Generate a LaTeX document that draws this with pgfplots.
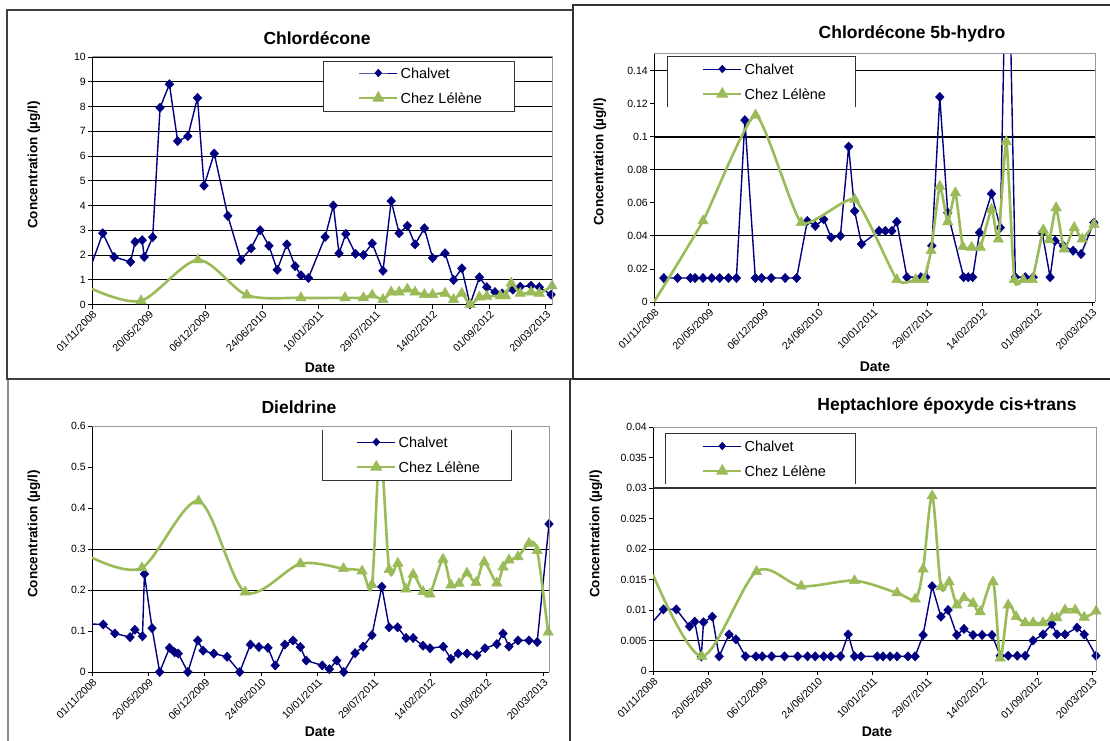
\documentclass[border=0pt]{standalone}
\usepackage{fontspec}
\setmainfont{Liberation Sans}
\usepackage{pgfplots}
\pgfplotsset{compat=1.18}
\definecolor{navy}{HTML}{000080}
\definecolor{lgreen}{HTML}{9BBB59}
\newcommand{\tickfont}{\fontsize{10.5}{12}\selectfont}
\newcommand{\legfont}{\fontsize{14.5}{17}\selectfont}
\newcommand{\titfont}{\bfseries\fontsize{17.5}{20}\selectfont}
\newcommand{\labfont}{\bfseries\fontsize{13.5}{16}\selectfont}
\pgfplotsset{
  panel/.style={
    scale only axis, anchor=south west,
    axis lines*=left, axis line style={line width=1pt, black},
    tick align=outside, major tick length=4pt, tick style={black, line width=0.8pt},
    xmin=0, ymin=0,
    xtick={0,200,...,1600},
    xticklabels={01/11/2008,20/05/2009,06/12/2009,24/06/2010,10/01/2011,29/07/2011,14/02/2012,01/09/2012,20/03/2013},
    xticklabel style={rotate=45, anchor=north east, inner sep=1pt, font=\tickfont},
    yticklabel style={font=\tickfont, inner sep=2pt},
    scaled y ticks=false,
    yticklabel={\pgfmathprintnumber[fixed,precision=3,assume math mode=true]{\tick}},
    clip mode=individual,
    legend cell align=left,
    legend style={draw=none, fill=none, inner sep=0pt, outer sep=0pt, font=\legfont,
      row sep=10.6pt, column sep=2pt,
      nodes={inner sep=0pt, text height=12.4pt, text depth=2pt}},
    legend image code/.code={\draw[mark repeat=2,mark phase=2,##1] plot coordinates {(0pt,0pt) (19pt,0pt) (38pt,0pt)};},
  },
  chal/.style={color=navy, line width=1.4pt, mark=diamond*, mark size=4.6pt, mark options={solid, fill=navy, line width=0.5pt, xscale=1.25}},
  lel/.style={color=lgreen, line width=2.6pt, smooth, mark=triangle*, mark size=6pt, mark options={solid, fill=lgreen, line width=0.5pt}},
  challeg/.style={color=navy, line width=1pt, mark=diamond*, mark size=3.5pt, mark options={solid, fill=navy, xscale=1.2}},
  lelleg/.style={color=lgreen, line width=2.6pt, mark=triangle*, mark size=4.5pt, mark options={solid, fill=lgreen}},
}
\begin{document}
\begin{tikzpicture}
\path[use as bounding box, fill=white] (0,0) rectangle (1110pt,740pt);
\clip (0,0) rectangle (1110pt,740pt);
% frames
\draw[line width=1.2pt, black!75] (7pt,361pt) rectangle (590pt,730pt);
\draw[line width=1.5pt, black!45] (8pt,-5pt) -- (8pt,360pt);
\draw[line width=2.5pt, black!80] (570pt,-5pt) -- (570pt,360pt);
\draw[line width=1.2pt, black!80, fill=white] (573pt,361pt) rectangle (1125pt,735pt);
\draw[line width=2pt, black!85] (573pt,361pt) -- (1115pt,361pt);

% ---------------- Panel 1: Chlordecone
\begin{axis}[panel, at={(92pt,435.5pt)}, width=460pt, height=247.5pt,
  xmax=1622, ymax=10, ytick={0,1,2,3,4,5,6,7,8,9,10},
  ymajorgrids, major grid style={black, line width=0.8pt},
  legend style={at={(0.5783,0.9644)}, anchor=north west}]
\addplot[chal, forget plot, mark repeat=1, mark phase=2] coordinates {
(0,1.67) (38,2.88) (78,1.92) (136,1.72) (152,2.53) (177,2.60) (184,1.92) (214,2.72)
(240,7.95) (273,8.90) (302,6.60) (338,6.80) (372,8.35) (395,4.80) (431,6.10) (479,3.58)
(525,1.80) (561,2.27) (593,3.00) (624,2.37) (653,1.40) (687,2.43) (716,1.55) (737,1.18)
(763,1.07) (822,2.73) (851,4.00) (871,2.07) (895,2.85) (929,2.05) (957,2.00) (988,2.47)
(1026,1.36) (1055,4.18) (1083,2.88) (1112,3.18) (1139,2.43) (1172,3.08) (1201,1.88)
(1245,2.07) (1275,0.99) (1304,1.46) (1333,0.0) (1366,1.10) (1392,0.70) (1421,0.50)
(1446,0.45) (1484,0.60) (1510,0.72) (1548,0.76) (1577,0.70) (1619,0.40)};
\addplot[lel, forget plot, mark repeat=1, mark phase=2] coordinates {
(0,0.63) (173,0.15) (373,1.80) (546,0.38) (737,0.27) (892,0.27) (957,0.27) (988,0.38)
(1026,0.20) (1055,0.50) (1083,0.50) (1112,0.62) (1139,0.50) (1172,0.40) (1201,0.40)
(1245,0.45) (1275,0.20) (1304,0.45) (1333,0.0) (1366,0.30) (1392,0.33) (1440,0.35)
(1458,0.35) (1478,0.86) (1510,0.45) (1548,0.50) (1577,0.45) (1622,0.75)};
\fill[white] (rel axis cs:0.5022,0.7818) rectangle (rel axis cs:0.9174,0.9838);
\draw[line width=1pt, black!80] (rel axis cs:0.5022,0.7818) rectangle (rel axis cs:0.9174,0.9838);
\draw[line width=1pt, black!40] (rel axis cs:0,1) -- (rel axis cs:1,1) -- (rel axis cs:1,0);
\addlegendimage{challeg}\addlegendentry{Chalvet}
\addlegendimage{lelleg}\addlegendentry{Chez Lélène}
\end{axis}

% ---------------- Panel 2: Chlordecone 5b-hydro
\begin{axis}[panel, at={(654pt,438pt)}, width=441pt, height=248pt,
  xmax=1611, ymax=0.15, ytick={0,0.02,0.04,0.06,0.08,0.1,0.12,0.14},
  legend style={at={(0.1088,0.9685)}, anchor=north west}]
\draw[black, line width=0.8pt] (axis cs:0,0.04) -- (axis cs:1611,0.04);
\draw[black, line width=0.8pt] (axis cs:0,0.08) -- (axis cs:1611,0.08);
\draw[black, line width=2pt] (axis cs:0,0.1) -- (axis cs:1611,0.1);
\draw[black, line width=0.8pt] (axis cs:0,0.14) -- (axis cs:1611,0.14);
\addplot[chal, forget plot] coordinates {
(36,0.0145) (86,0.0145) (133,0.0145) (150,0.0145) (179,0.0145) (211,0.0145) (240,0.0145)
(272,0.0145) (301,0.0145) (332,0.110) (370,0.0145) (393,0.0145) (428,0.0145) (479,0.0145)
(521,0.0145) (560,0.049) (589,0.046) (620,0.050) (647,0.039) (681,0.040) (711,0.094)
(733,0.055) (758,0.035) (822,0.043) (845,0.043) (869,0.043) (887,0.0485) (924,0.015)
(975,0.015) (993,0.015) (1015,0.034) (1044,0.124) (1073,0.054) (1131,0.015) (1148,0.015)
(1164,0.015) (1189,0.042) (1233,0.0655) (1265,0.045) (1291,0.26) (1320,0.015) (1356,0.015)
(1385,0.015) (1418,0.042) (1447,0.015) (1465,0.037) (1495,0.034) (1531,0.031) (1560,0.029)
(1607,0.048)};
\addplot[lel, tension=0.3, forget plot, mark repeat=1, mark phase=2] coordinates {
(0,0) (179,0.049) (371,0.113) (538,0.048) (733,0.062) (887,0.0135) (956,0.0135) (985,0.0135)
(1012,0.031) (1044,0.070) (1073,0.0485) (1101,0.066) (1128,0.0335) (1160,0.033) (1192,0.033)
(1233,0.056) (1258,0.038) (1287,0.097) (1316,0.0135) (1349,0.0135) (1382,0.0135)
(1422,0.0436) (1444,0.0376) (1469,0.057) (1498,0.032) (1535,0.045) (1564,0.038) (1607,0.047)};
\fill[white] (rel axis cs:0.0317,0.7863) rectangle (rel axis cs:0.4580,0.9879);
\draw[line width=1pt, black!80] (rel axis cs:0.0317,0.7863) -- (rel axis cs:0.0317,0.9879) -- (rel axis cs:0.4580,0.9879) -- (rel axis cs:0.4580,0.7863);
\draw[line width=1pt, black!40] (rel axis cs:0,1) -- (rel axis cs:1,1) -- (rel axis cs:1,0);
\addlegendimage{challeg}\addlegendentry{Chalvet}
\addlegendimage{lelleg}\addlegendentry{Chez Lélène}
\end{axis}

% ---------------- Panel 3: Dieldrine
\begin{axis}[panel, at={(92pt,68pt)}, width=457pt, height=246pt,
  xmax=1621, ymax=0.6, ytick={0,0.1,0.2,0.3,0.4,0.5,0.6},
  legend style={at={(0.5777,0.9642)}, anchor=north west}]
\draw[black, line width=0.8pt] (axis cs:0,0.2) -- (axis cs:1621,0.2);
\draw[black, line width=0.8pt] (axis cs:0,0.3) -- (axis cs:1621,0.3);
\addplot[chal, forget plot, mark repeat=1, mark phase=2] coordinates {
(0,0.117) (40,0.116) (81,0.094) (135,0.085) (152,0.103) (179,0.087) (186,0.239) (213,0.107)
(240,0.0) (275,0.059) (293,0.048) (306,0.045) (340,0.0) (375,0.077) (394,0.052) (432,0.045)
(479,0.037) (524,0.0) (562,0.067) (592,0.061) (624,0.059) (650,0.016) (684,0.067) (713,0.077)
(739,0.061) (760,0.028) (817,0.016) (842,0.007) (868,0.028) (893,0.0) (933,0.046) (962,0.062)
(993,0.090) (1028,0.208) (1054,0.109) (1084,0.109) (1114,0.083) (1139,0.083) (1174,0.064)
(1199,0.058) (1246,0.062) (1273,0.032) (1299,0.045) (1330,0.045) (1365,0.041) (1394,0.058)
(1436,0.068) (1458,0.094) (1479,0.062) (1511,0.077) (1550,0.077) (1579,0.073) (1621,0.361)};
\addplot[lel, forget plot, mark repeat=1, mark phase=2] coordinates {
(0,0.279) (177,0.254) (378,0.417) (543,0.195) (739,0.264) (892,0.252) (958,0.246) (993,0.213)
(1022,0.55) (1054,0.250) (1085,0.265) (1114,0.202) (1139,0.238) (1174,0.196) (1199,0.190)
(1245,0.275) (1273,0.212) (1302,0.216) (1330,0.241) (1362,0.218) (1391,0.268) (1436,0.217)
(1458,0.256) (1479,0.273) (1511,0.281) (1550,0.314) (1579,0.296) (1618,0.097)};
\fill[white] (rel axis cs:0.5033,0.7805) rectangle (rel axis cs:0.9190,1);
\draw[line width=1pt, black!80] (rel axis cs:0.5033,0.984) -- (rel axis cs:0.5033,0.7805) -- (rel axis cs:0.9190,0.7805) -- (rel axis cs:0.9190,0.984);
\draw[line width=1pt, black!40] (rel axis cs:0,1) -- (rel axis cs:1,1) -- (rel axis cs:1,0);
\addlegendimage{challeg}\addlegendentry{Chalvet}
\addlegendimage{lelleg}\addlegendentry{Chez Lélène}
\end{axis}

% ---------------- Panel 4: Heptachlore epoxyde
\begin{axis}[panel, at={(653pt,69pt)}, width=443pt, height=244pt,
  xmax=1614, ymax=0.04, ytick={0,0.005,0.01,0.015,0.02,0.025,0.03,0.035,0.04},
  legend style={at={(0.1106,0.9516)}, anchor=north west}]
\draw[black, line width=0.8pt] (axis cs:0,0.005) -- (axis cs:1614,0.005);
\draw[black, line width=0.8pt] (axis cs:0,0.02) -- (axis cs:1614,0.02);
\draw[black!80, line width=1.5pt] (axis cs:0,0.03) -- (axis cs:1614,0.03);
\addplot[chal, forget plot, mark repeat=1, mark phase=2] coordinates {
(0,0.0081) (38,0.0101) (85,0.0101) (133,0.0073) (152,0.0081) (176,0.0024) (184,0.0080)
(216,0.0089) (241,0.0024) (277,0.0060) (302,0.0052) (337,0.0024) (375,0.0024) (398,0.0024)
(432,0.0024) (479,0.0024) (527,0.0024) (563,0.0024) (591,0.0024) (622,0.0024) (648,0.0024)
(683,0.0024) (711,0.0060) (734,0.0024) (758,0.0024) (817,0.0024) (838,0.0024) (864,0.0024)
(889,0.0024) (929,0.0024) (955,0.0024) (984,0.0059) (1017,0.0139) (1049,0.0089) (1075,0.0100)
(1107,0.0059) (1133,0.0069) (1166,0.0059) (1199,0.0059) (1235,0.0059) (1265,0.0025)
(1294,0.0025) (1327,0.0025) (1356,0.0025) (1385,0.0050) (1421,0.0060) (1453,0.0077)
(1472,0.0060) (1501,0.0060) (1545,0.0071) (1571,0.0060) (1614,0.0025)};
\addplot[lel, forget plot, mark repeat=1, mark phase=2] coordinates {
(0,0.0158) (178,0.0024) (377,0.0163) (540,0.0139) (734,0.0148) (889,0.0128) (955,0.0118)
(984,0.0167) (1017,0.0287) (1049,0.0138) (1079,0.0146) (1107,0.0108) (1133,0.0120)
(1166,0.0111) (1192,0.0097) (1239,0.0146) (1265,0.0021) (1294,0.0108) (1323,0.0089)
(1356,0.0079) (1385,0.0079) (1421,0.0079) (1454,0.0087) (1472,0.0087) (1501,0.0100)
(1538,0.0100) (1571,0.0088) (1614,0.0098)};
\fill[white] (rel axis cs:0.0293,0.7664) rectangle (rel axis cs:0.4582,0.9754);
\draw[line width=1pt, black!80] (rel axis cs:0.0293,0.7664) -- (rel axis cs:0.0293,0.9754) -- (rel axis cs:0.4582,0.9754) -- (rel axis cs:0.4582,0.7664);
\draw[line width=1pt, black!40] (rel axis cs:0,1) -- (rel axis cs:1,1) -- (rel axis cs:1,0);
\addlegendimage{challeg}\addlegendentry{Chalvet}
\addlegendimage{lelleg}\addlegendentry{Chez Lélène}
\end{axis}

% titles and labels
\node[font=\titfont] at (317pt,702pt) {Chlordécone};
\node[font=\titfont] at (912pt,706pt) {Chlordécone 5b-hydro};
\node[font=\titfont] at (299pt,333pt) {Dieldrine};
\node[font=\titfont] at (947pt,334pt) {Heptachlore époxyde cis+trans};
\node[font=\labfont, rotate=90] at (34pt,575pt) {Concentration (µg/l)};
\node[font=\labfont, rotate=90] at (600pt,578pt) {Concentration (µg/l)};
\node[font=\labfont, rotate=90] at (34pt,206pt) {Concentration (µg/l)};
\node[font=\labfont, rotate=90] at (596pt,206pt) {Concentration (µg/l)};
\node[font=\bfseries\fontsize{14}{16}\selectfont] at (320pt,372pt) {Date};
\node[font=\bfseries\fontsize{14}{16}\selectfont] at (875pt,373pt) {Date};
\node[font=\bfseries\fontsize{14}{16}\selectfont] at (320pt,8pt) {Date};
\node[font=\bfseries\fontsize{14}{16}\selectfont] at (877pt,8pt) {Date};
\end{tikzpicture}
\end{document}
